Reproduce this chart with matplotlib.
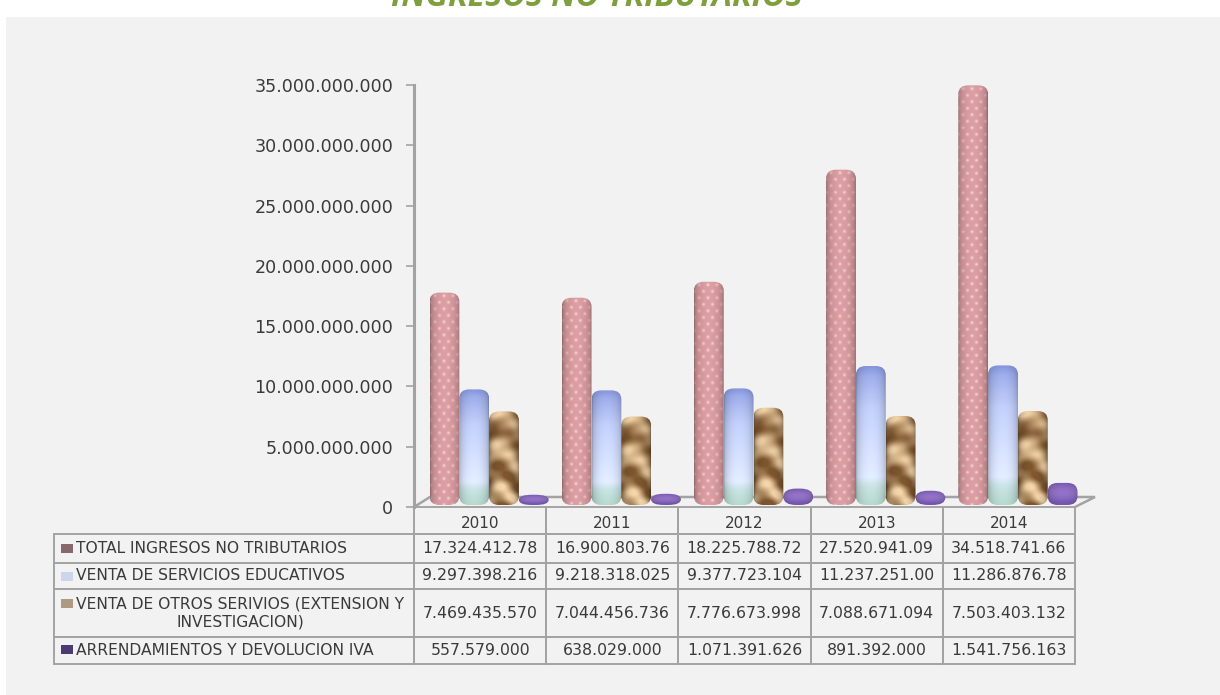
import numpy as np
import matplotlib
matplotlib.use("Agg")
import matplotlib.pyplot as plt
from matplotlib.patches import Rectangle, FancyBboxPatch
from matplotlib.table import Table
from matplotlib.ticker import FuncFormatter
from matplotlib.transforms import Affine2D

years = ["2010", "2011", "2012", "2013", "2014"]
total_ingresos = [17324412780, 16900803760, 18225788720, 27520941090, 34518741660]
venta_educativos = [9297398216, 9218318025, 9377723104, 11237251000, 11286876780]
venta_otros = [7469435570, 7044456736, 7776673998, 7088671094, 7503403132]
arrendamientos = [557579000, 638029000, 1071391626, 891392000, 1541756163]
series_names = ["TOTAL INGRESOS NO TRIBUTARIOS",
                "VENTA DE SERVICIOS EDUCATIVOS",
                "VENTA DE OTROS SERIVIOS (EXTENSION Y\nINVESTIGACION)",
                "ARRENDAMIENTOS Y DEVOLUCION IVA"]
series_values = [total_ingresos, venta_educativos, venta_otros, arrendamientos]
swatch_colors = ["#86686e", "#cdd5ea", "#ad9a80", "#4b3b72"]
yticks = [0, 5e9, 10e9, 15e9, 20e9, 25e9, 30e9, 35e9]
title = "INGRESOS NO TRIBUTARIOS"

W, H = 1220, 695
TXT = "#3a3a3a"
GRID = "#a3a3a3"
BG = "#f2f2f2"
fig = plt.figure(figsize=(W / 100, H / 100), dpi=100, facecolor="white")


def rect(l, t, r, b):
    return [l / W, 1 - b / H, (r - l) / W, (b - t) / H]


# background canvas in pixel units
pix = fig.add_axes([0, 0, 1, 1], zorder=0)
pix.set_xlim(0, W)
pix.set_ylim(H, 0)
pix.axis("off")
pix.add_patch(Rectangle((6, 17), W, H, facecolor=BG, edgecolor="none"))
pix.plot([414, 430, 1095, 1075], [507, 497, 497, 507], color=GRID, lw=1.8, solid_joinstyle="miter")
pix.text(597, 5.5, title, ha="center", va="baseline", color="#7f9f3e", fontsize=23.2,
         fontweight="bold", fontstyle="italic", family="Open Sans")

# table
row_h = [27, 28.5, 26.5, 48, 27]
col_w = [360] + [132.2] * 5
tax = fig.add_axes(rect(54, 507, 1075, 664), zorder=1)
tax.axis("off")
tbl = Table(tax, bbox=[0, 0, 1, 1])
tbl.auto_set_font_size(False)
for c, y in enumerate(years, start=1):
    tbl.add_cell(0, c, col_w[c], row_h[0], text=y, loc="center", facecolor="none", edgecolor=GRID)
for r, (name, vals) in enumerate(zip(series_names, series_values), start=1):
    cell = tbl.add_cell(r, 0, col_w[0], row_h[r], text=name, loc="left", facecolor="none", edgecolor=GRID)
    cell.PAD = 22 / 360
    cell.get_text().set_multialignment("center")
    for c, v in enumerate(vals, start=1):
        s = f"{v:,}".replace(",", ".")[:13]
        tbl.add_cell(r, c, col_w[c], row_h[r], text=s, loc="center", facecolor="none", edgecolor=GRID)
for (r, c), cell in tbl.get_celld().items():
    cell.set_linewidth(1.4)
    cell.get_text().set_color(TXT)
    cell.get_text().set_fontsize(11.2 if c == 0 else (11 if r == 0 else 11.3))
    if r == 0:
        cell.get_text().set_transform(Affine2D().translate(0, -3))
tax.add_table(tbl)
for col, yc in zip(swatch_colors, [548, 576, 603, 649]):
    pix.add_patch(Rectangle((61, yc - 4.5), 12, 9, facecolor=col, edgecolor="none", zorder=5))

# value axis
ax = fig.add_axes(rect(414, 85, 1075, 507), zorder=2)
ax.patch.set_alpha(0)
ax.set_ylim(0, 35e9)
ax.set_xlim(-0.5, 4.5)
ax.set_xticks([])
ax.set_yticks(yticks)
ax.yaxis.set_major_formatter(FuncFormatter(lambda v, _: f"{int(v):,}".replace(",", ".")))
ax.tick_params(axis="y", length=5.8, width=1.2, color=GRID, labelsize=12.6, labelcolor=TXT, pad=9)
for s in ["top", "right", "bottom"]:
    ax.spines[s].set_visible(False)
ax.spines["left"].set_color(GRID)
ax.spines["left"].set_linewidth(2.2)

# bars sit on the raised 3D floor: same scale, shifted upward
LIFT = 5.5
bx = fig.add_axes(rect(414, 85 - LIFT, 1075, 507 - LIFT), zorder=3)
bx.patch.set_alpha(0)
bx.axis("off")
PX_Y = 35e9 / 422.0
PX_X = 5 / 661.0


def cyl(w):
    u = np.linspace(-1, 1, w)
    return np.sqrt(np.clip(1 - u ** 2, 0, 1))


def tex_pink(h, w):
    yy, xx = np.mgrid[0:h, 0:w]
    base = np.array([212, 152, 156], float)
    shade = 0.70 + 0.34 * cyl(w)[None, :]
    img = base[None, None, :] * shade[..., None]
    off = (np.floor(yy / 6.5) % 2) * 4.5
    dx = ((xx + off) % 9) - 4.5
    dy = (yy % 6.5) - 3.25
    dots = np.exp(-(dx ** 2 + dy ** 2) / 2.2) * (0.25 + 0.75 * cyl(w)[None, :] ** 3)
    img = img + (np.array([255, 232, 232.0]) - img) * (0.75 * dots[..., None])
    return np.clip(img, 0, 255) / 255


def tex_blue(h, w):
    t = np.linspace(0, 1, h)
    stops_t = [0, 0.07, 0.3, 0.8, 0.87, 1]
    stops = np.array([[130, 145, 215], [155, 170, 230], [190, 203, 245],
                      [222, 232, 255], [195, 222, 222], [178, 212, 200]], float)
    col = np.stack([np.interp(t, stops_t, stops[:, i]) for i in range(3)], axis=1)
    shade = 0.76 + 0.27 * cyl(w)
    return np.clip(col[:, None, :] * shade[None, :, None], 0, 255) / 255


def tex_brown(h, w):
    yy, xx = np.mgrid[0:h, 0:w]
    v = (np.sin(yy * 0.17 + 1.6 * np.sin(xx * 0.14) + 0.7 * np.sin(yy * 0.06))
         + 0.55 * np.sin((xx - yy) * 0.19 + 1.0)
         + 0.3 * np.sin(yy * 0.43 + xx * 0.1))
    m = np.clip((v + 1.3) / 2.8, 0, 1)[..., None]
    dark = np.array([120, 82, 44], float)
    light = np.array([232, 202, 160], float)
    shade = 0.66 + 0.40 * cyl(w)
    return np.clip((dark + (light - dark) * m) * shade[None, :, None], 0, 255) / 255


def tex_purple(h, w):
    t = np.linspace(0, 1, h)
    top = np.array([112, 82, 168], float)
    mid = np.array([140, 110, 190], float)
    col = top + (mid - top) * np.sin(np.pi * np.clip(t * 1.1, 0, 1))[:, None]
    shade = 0.8 + 0.25 * cyl(w)
    return np.clip(col[:, None, :] * shade[None, :, None], 0, 255) / 255


textures = [tex_pink, tex_blue, tex_brown, tex_purple]
BAR_W = 29.8 * PX_X
X_SHIFT = 9.0 * PX_X
BELOW = 3.5 * PX_Y
for k, vals in enumerate(series_values):
    for i, v in enumerate(vals):
        x0 = i + (k - 2) * BAR_W + X_SHIFT
        h_px = (v + BELOW) / PX_Y
        rx_px = 10.0 if h_px > 22 else 13.0
        ry_px = min(9.0, h_px / 2)
        asp = ry_px * PX_Y / (rx_px * PX_X)
        patch = FancyBboxPatch((x0, -BELOW), BAR_W, v + BELOW,
                               boxstyle=f"round,pad=0,rounding_size={rx_px * PX_X}",
                               mutation_aspect=asp, facecolor="none", edgecolor="none",
                               zorder=3 + k)
        bx.add_patch(patch)
        tex = textures[k](max(int(round(h_px)), 2), 30)
        im = bx.imshow(tex, extent=[x0, x0 + BAR_W, -BELOW, v], aspect="auto",
                       interpolation="bilinear", zorder=3 + k, origin="upper")
        im.set_clip_path(patch)
        im.set_clip_box(fig.bbox)
bx.set_xlim(-0.5, 4.5)
bx.set_ylim(0, 35e9)

fig.savefig("out.png", dpi=100, facecolor="white")
